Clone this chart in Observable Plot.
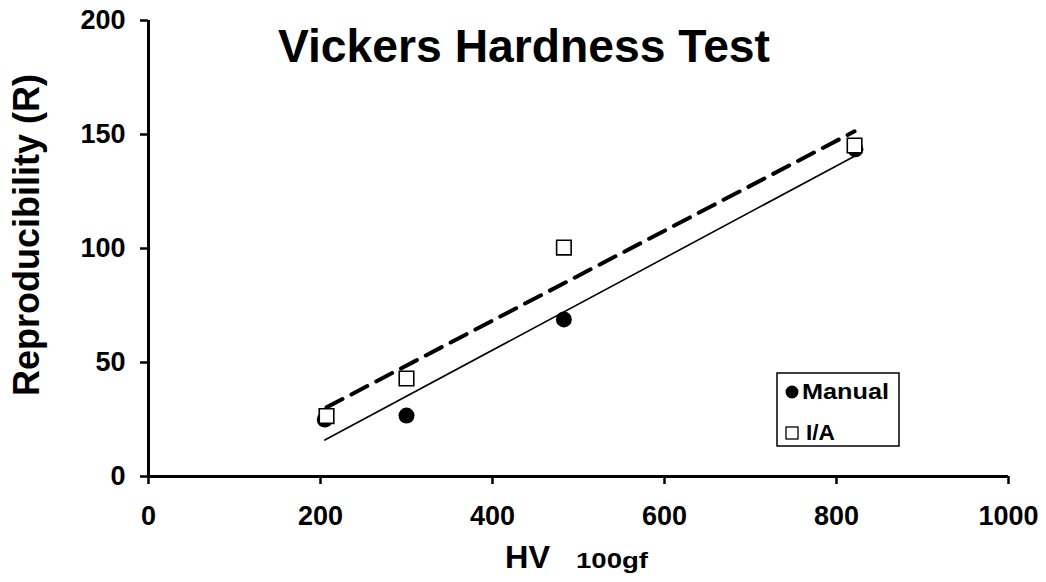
<!DOCTYPE html>
<html>
<head>
<meta charset="utf-8">
<script src="https://cdn.jsdelivr.net/npm/d3@7"></script>
<script src="https://cdn.jsdelivr.net/npm/@observablehq/plot@0.6"></script>
<style>
  html, body { margin: 0; padding: 0; background: #fff; }
  #chart { width: 1046px; height: 582px; }
</style>
</head>
<body>
<div id="chart"></div>
<script>
// Data
const hvManual = [205, 300, 483, 822];
const rManual = [25, 26.7, 68.9, 143.5];
const hvIA = [207, 300, 483, 821];
const rIA = [26.5, 43, 100.4, 145.2];
const xTicks = [0, 200, 400, 600, 800, 1000];
const yTicks = [0, 50, 100, 150, 200];
const titleText = "Vickers Hardness Test";
const xLabelMain = "HV";
const xLabelSub = "100gf";
const yLabelText = "Reproducibility (R)";
const seriesNames = ["Manual", "I/A"];

const manual = hvManual.map((x, i) => ({x, y: rManual[i]}));
const ia = hvIA.map((x, i) => ({x, y: rIA[i]}));

const FONT = "'Liberation Sans', Arial, sans-serif";

const plot = Plot.plot({
  width: 1046,
  height: 582,
  marginLeft: 148,
  marginRight: 38,
  marginTop: 20,
  marginBottom: 106,
  style: {fontFamily: FONT, fontWeight: "bold", background: "#fff", color: "#000", overflow: "visible"},
  x: {domain: [0, 1000]},
  y: {domain: [0, 200]},
  marks: [
    Plot.axisX({ticks: xTicks, tickFormat: d => String(d), tickSize: 8, tickPadding: 21, fontSize: 27, strokeWidth: 2.5, label: null}),
    Plot.axisY({ticks: yTicks, tickFormat: d => String(d), tickSize: 8, tickPadding: 15, fontSize: 27, strokeWidth: 2.5, label: null}),
    Plot.ruleY([0], {stroke: "#000", strokeWidth: 3}),
    Plot.ruleX([0], {stroke: "#000", strokeWidth: 3}),
    Plot.linearRegressionY(manual, {x: "x", y: "y", ci: 0, stroke: "#000", strokeWidth: 1.6}),
    Plot.linearRegressionY(ia, {x: "x", y: "y", ci: 0, stroke: "#000", strokeWidth: 4, strokeDasharray: "18,10"}),
    Plot.dot(manual, {x: "x", y: "y", r: 8, fill: "#000", stroke: "none"}),
    Plot.dot(ia, {x: "x", y: "y", symbol: "square", r: 8.2, fill: "#fff", stroke: "#000", strokeWidth: 1.6})
  ]
});

document.getElementById("chart").appendChild(plot);

const svg = d3.select(plot);

function label(x, y, size, txt, anchor, len) {
  const t = svg.append("text")
    .attr("x", x).attr("y", y)
    .attr("text-anchor", anchor)
    .style("font-family", FONT).style("font-weight", "bold").style("font-size", size + "px")
    .text(txt);
  if (len) t.attr("textLength", len).attr("lengthAdjust", "spacingAndGlyphs");
  return t;
}

// Title
label(524, 62, 46, titleText, "middle", 492);

// X axis label
label(505, 568, 32, xLabelMain, "start", 45);
label(576, 568, 22, xLabelSub, "start", 72);

// Y axis label
svg.append("text")
  .attr("transform", "translate(39,235) rotate(-90)")
  .attr("text-anchor", "middle")
  .style("font-family", FONT).style("font-weight", "bold").style("font-size", "36px")
  .text(yLabelText);

// Legend
svg.append("rect").attr("x", 777).attr("y", 373).attr("width", 122).attr("height", 73)
  .attr("fill", "#fff").attr("stroke", "#000").attr("stroke-width", 1.5);
svg.append("circle").attr("cx", 792).attr("cy", 392).attr("r", 6.5).attr("fill", "#000");
svg.append("rect").attr("x", 786).attr("y", 427).attr("width", 12).attr("height", 12)
  .attr("fill", "#fff").attr("stroke", "#000").attr("stroke-width", 1.3);
label(802, 399, 22, seriesNames[0], "start", 87);
label(806, 440, 22, seriesNames[1], "start", 29);
</script>
</body>
</html>
